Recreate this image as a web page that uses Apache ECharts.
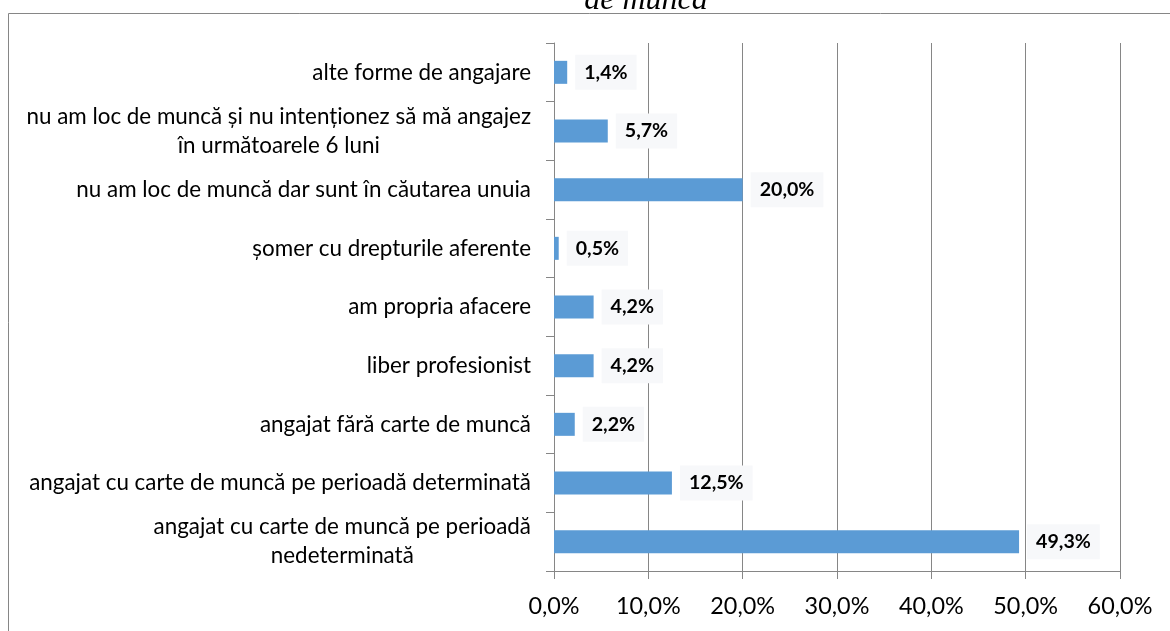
<!DOCTYPE html>
<html>
<head>
<meta charset="utf-8">
<script src="https://cdn.jsdelivr.net/npm/echarts@6/dist/echarts.min.js"></script>
<style>
  html, body { margin: 0; padding: 0; background: #fff; }
  #chart { width: 1170px; height: 631px; }
</style>
</head>
<body>
<div id="chart"></div>
<script>
// categorii, de jos in sus (axa category incepe de jos)
var categories = [
  'angajat cu carte de muncă pe perioadă\nnedeterminată',
  'angajat cu carte de muncă pe perioadă determinată',
  'angajat fără carte de muncă',
  'liber profesionist',
  'am propria afacere',
  'șomer cu drepturile aferente',
  'nu am loc de muncă dar sunt în căutarea unuia',
  'nu am loc de muncă și nu intenționez să mă angajez\nîn următoarele 6 luni',
  'alte forme de angajare'
];
var values = [49.3, 12.5, 2.2, 4.2, 4.2, 0.5, 20.0, 5.7, 1.4];
var xTicks = [0, 10, 20, 30, 40, 50, 60];

var chart = echarts.init(document.getElementById('chart'));

function pct(v) {
  return v.toFixed(1).replace('.', ',') + '%';
}

var option = {
  animation: false,
  backgroundColor: '#fff',
  textStyle: { fontFamily: 'Lato' },
  graphic: [
    {
      type: 'rect',
      shape: { x: 8.5, y: 13.5, width: 1200, height: 700 },
      style: { fill: null, stroke: '#868686', lineWidth: 1 },
      silent: true
    },
    {
      // titlul e taiat sus, se vede doar ultimul rand
      type: 'text',
      x: 646,
      y: 17,
      style: {
        text: 'de muncă',
        font: 'italic 32px "Liberation Serif"',
        fill: '#000',
        align: 'center',
        verticalAlign: 'bottom'
      }
    }
  ],
  grid: { left: 554, right: 50, top: 43, bottom: 60, containLabel: false },
  xAxis: {
    type: 'value',
    min: xTicks[0],
    max: xTicks[xTicks.length - 1],
    interval: 10,
    axisLine: { show: true, lineStyle: { color: '#868686', width: 1 } },
    axisTick: { show: true, length: 8, lineStyle: { color: '#868686' } },
    splitLine: { show: true, lineStyle: { color: '#868686', width: 1 } },
    axisLabel: {
      margin: 24,
      fontSize: 23.4,
      color: '#000',
      fontFamily: 'Lato',
      formatter: function (v) { return pct(v); }
    }
  },
  yAxis: {
    type: 'category',
    data: categories,
    axisLine: { show: true, lineStyle: { color: '#868686', width: 1 } },
    axisTick: { show: true, length: 8, lineStyle: { color: '#868686' } },
    splitLine: { show: false },
    axisLabel: {
      margin: 23,
      color: '#000',
      fontSize: 22.4,
      fontFamily: 'Lato',
      lineHeight: 29,
      formatter: function (v) {
        return v.split('\n').map(function (s) { return '{c|' + s + '}'; }).join('\n');
      },
      rich: {
        c: { align: 'center', fontSize: 22.4, color: '#000', fontFamily: 'Lato', lineHeight: 29 }
      }
    }
  },
  series: [{
    type: 'bar',
    data: values,
    barWidth: 23,
    itemStyle: { color: '#5b9bd5' },
    label: {
      show: true,
      position: 'right',
      distance: 8,
      formatter: function (p) { return pct(p.value); },
      fontWeight: 'bold',
      fontSize: 19.6,
      color: '#000',
      fontFamily: 'Lato',
      backgroundColor: '#f7f8fa',
      padding: [8, 9, 7, 9]
    }
  }]
};

chart.setOption(option);
</script>
</body>
</html>
